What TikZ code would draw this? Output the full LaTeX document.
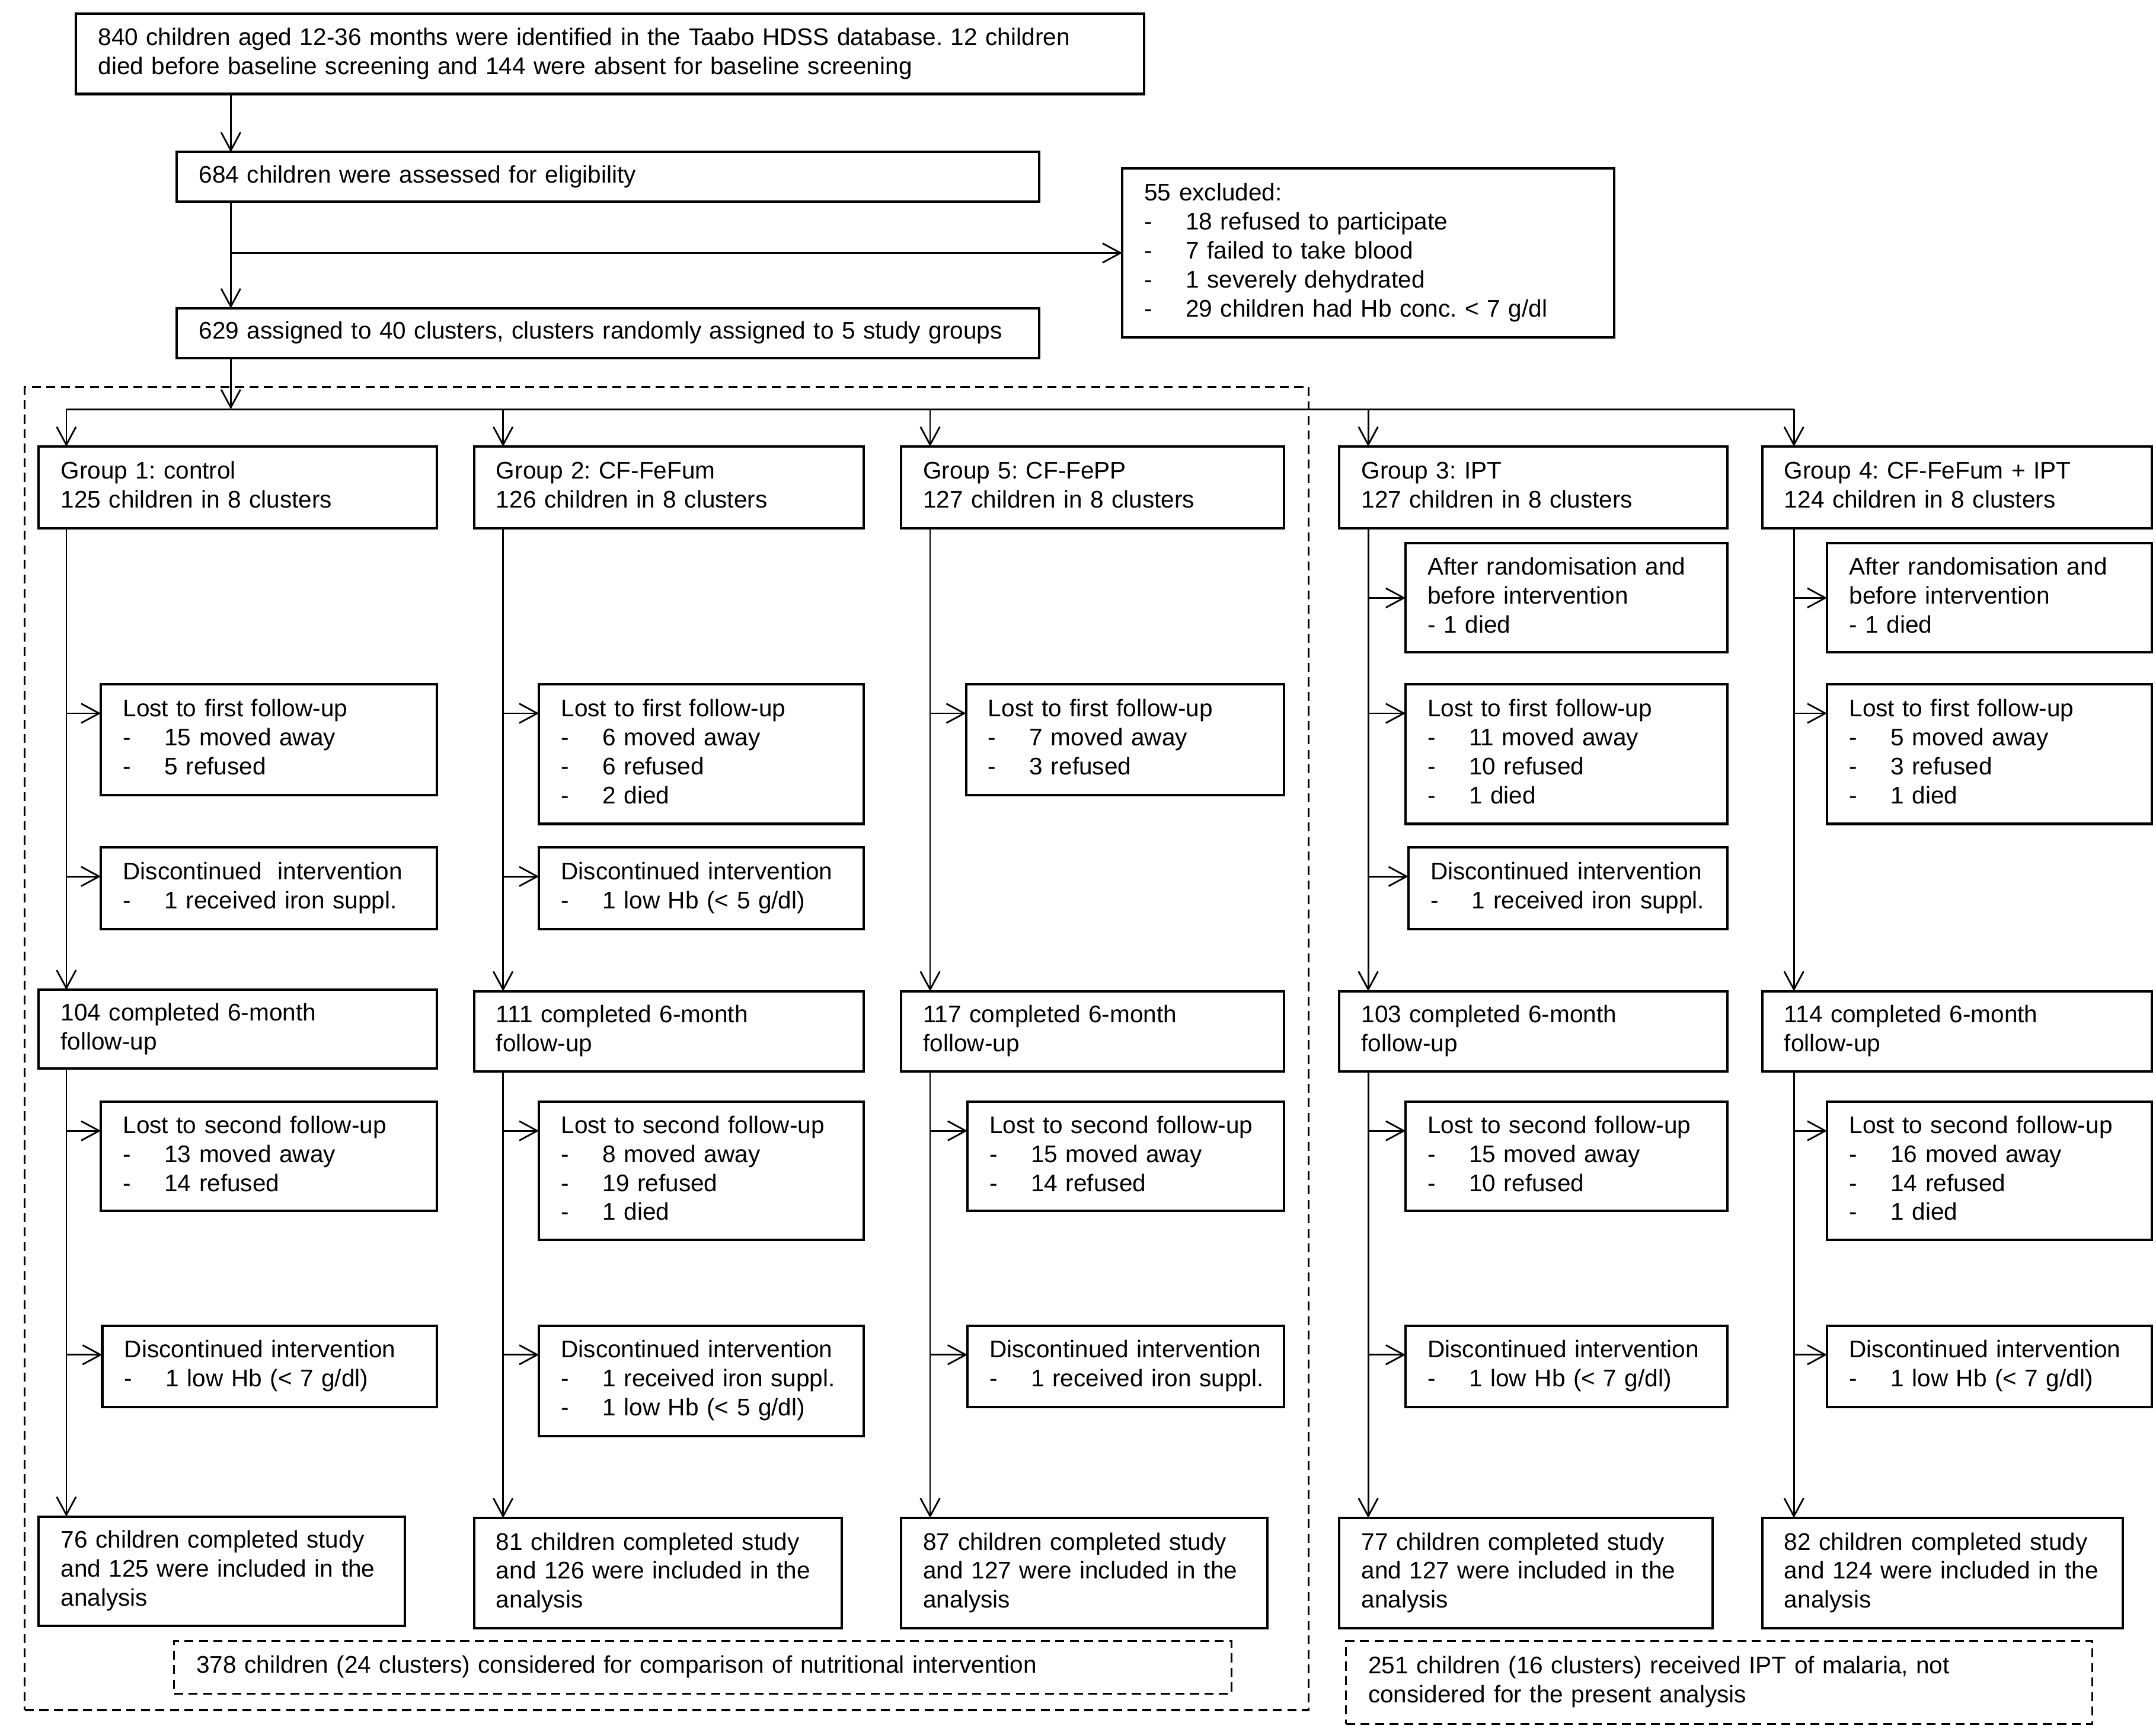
\documentclass[tikz,border=0pt]{standalone}
\usepackage{fontspec}
\setmainfont{Liberation Sans}
\usetikzlibrary{arrows.meta}
\frenchspacing
\tikzset{
  box/.style={draw, line width=1.75pt, rectangle, anchor=north west, inner xsep=16pt, inner ysep=0pt, outer sep=0pt, align=left, font=\fontsize{17.4}{21}\selectfont\frenchspacing},
  dbox/.style={box, line width=1.3pt, dash pattern=on 6.5pt off 4pt},
  dframe/.style={draw, line width=1.3pt, dash pattern=on 6.5pt off 4pt, rectangle, anchor=north west, inner sep=0pt, outer sep=0pt},
  conn/.style={line width=1.2pt},
  arr/.style={line width=1.2pt, -{Straight Barb[length=13pt,width=14pt,line width=1.2pt]}},
}
\newcommand\mkbox[7][box]{%
  \pgfmathsetmacro\bxw{#5-#3-32}%
  \pgfmathsetmacro\bxh{#6-#4}%
  \node[#1, text width=\bxw pt, minimum height=\bxh pt] (#2) at (#3,#4) {\begin{tabular}{@{}l@{}}#7\end{tabular}};}
\newcommand\itm[1]{\makebox[30pt][l]{-}#1}
\begin{document}
\begin{tikzpicture}[x=1pt,y=-1pt]
\useasboundingbox (0,0) rectangle (1560,1252.5);
% top part
\mkbox{A}{55}{10}{828}{68}{840 children aged 12-36 months were identified in the Taabo HDSS database. 12 children\\died before baseline screening and 144 were absent for baseline screening}
\mkbox{B}{128}{110}{752}{146}{684 children were assessed for eligibility}
\mkbox{X}{812}{122}{1168}{244}{55 excluded:\\\itm{18 refused to participate}\\\itm{7 failed to take blood}\\\itm{1 severely dehydrated}\\\itm{29 children had Hb conc. < 7 g/dl}}
\mkbox{C}{128}{223}{752}{259}{629 assigned to 40 clusters, clusters randomly assigned to 5 study groups}
% frames
\node[dframe, minimum width=929pt, minimum height=957pt] (nutframe) at (18,280) {};
% groups
\mkbox{g1}{28}{323}{316}{382}{Group 1: control\\125 children in 8 clusters}
\mkbox{g2}{343}{323}{625}{382}{Group 2: CF-FeFum\\126 children in 8 clusters}
\mkbox{g5}{652}{323}{929}{382}{Group 5: CF-FePP\\127 children in 8 clusters}
\mkbox{g3}{969}{323}{1250}{382}{Group 3: IPT\\127 children in 8 clusters}
\mkbox{g4}{1275}{323}{1557}{382}{Group 4: CF-FeFum + IPT\\124 children in 8 clusters}
% after randomisation
\mkbox{r3}{1017}{393}{1250}{472}{After randomisation and\\before intervention\\- 1 died}
\mkbox{r4}{1322}{393}{1557}{472}{After randomisation and\\before intervention\\- 1 died}
% lost first
\mkbox{a1}{73}{495}{316}{575}{Lost to first follow-up\\\itm{15 moved away}\\\itm{5 refused}}
\mkbox{a2}{390}{495}{625}{596}{Lost to first follow-up\\\itm{6 moved away}\\\itm{6 refused}\\\itm{2 died}}
\mkbox{a5}{699}{495}{929}{575}{Lost to first follow-up\\\itm{7 moved away}\\\itm{3 refused}}
\mkbox{a3}{1017}{495}{1250}{596}{Lost to first follow-up\\\itm{11 moved away}\\\itm{10 refused}\\\itm{1 died}}
\mkbox{a4}{1322}{495}{1557}{596}{Lost to first follow-up\\\itm{5 moved away}\\\itm{3 refused}\\\itm{1 died}}
% discontinued 1
\mkbox{d1}{73}{613}{316}{672}{Discontinued\ \ intervention\\\itm{1 received iron suppl.}}
\mkbox{d2}{390}{613}{625}{672}{Discontinued intervention\\\itm{1 low Hb (< 5 g/dl)}}
\mkbox{d3}{1019}{613}{1250}{672}{Discontinued intervention\\\itm{1 received iron suppl.}}
% completed 6-month
\mkbox{m1}{28}{716}{316}{773}{104 completed 6-month\\follow-up}
\mkbox{m2}{343}{717}{625}{775}{111 completed 6-month\\follow-up}
\mkbox{m5}{652}{717}{929}{775}{117 completed 6-month\\follow-up}
\mkbox{m3}{969}{717}{1250}{775}{103 completed 6-month\\follow-up}
\mkbox{m4}{1275}{717}{1557}{775}{114 completed 6-month\\follow-up}
% lost second
\mkbox{b1}{73}{797}{316}{876}{Lost to second follow-up\\\itm{13 moved away}\\\itm{14 refused}}
\mkbox{b2}{390}{797}{625}{897}{Lost to second follow-up\\\itm{8 moved away}\\\itm{19 refused}\\\itm{1 died}}
\mkbox{b5}{700}{797}{929}{876}{Lost to second follow-up\\\itm{15 moved away}\\\itm{14 refused}}
\mkbox{b3}{1017}{797}{1250}{876}{Lost to second follow-up\\\itm{15 moved away}\\\itm{10 refused}}
\mkbox{b4}{1322}{797}{1557}{897}{Lost to second follow-up\\\itm{16 moved away}\\\itm{14 refused}\\\itm{1 died}}
% discontinued 2
\mkbox{e1}{74}{959}{316}{1018}{Discontinued intervention\\\itm{1 low Hb (< 7 g/dl)}}
\mkbox{e2}{390}{959}{625}{1039}{Discontinued intervention\\\itm{1 received iron suppl.}\\\itm{1 low Hb (< 5 g/dl)}}
\mkbox{e5}{700}{959}{929}{1018}{Discontinued intervention\\\itm{1 received iron suppl.}}
\mkbox{e3}{1017}{959}{1250}{1018}{Discontinued intervention\\\itm{1 low Hb (< 7 g/dl)}}
\mkbox{e4}{1322}{959}{1557}{1018}{Discontinued intervention\\\itm{1 low Hb (< 7 g/dl)}}
% final
\mkbox{f1}{28}{1097}{293}{1176}{76 children completed study\\and 125 were included in the\\analysis}
\mkbox{f2}{343}{1098}{609}{1178}{81 children completed study\\and 126 were included in the\\analysis}
\mkbox{f5}{652}{1098}{917}{1178}{87 children completed study\\and 127 were included in the\\analysis}
\mkbox{f3}{969}{1098}{1239}{1178}{77 children completed study\\and 127 were included in the\\analysis}
\mkbox{f4}{1275}{1098}{1536}{1178}{82 children completed study\\and 124 were included in the\\analysis}
% dashed summary boxes
\mkbox[dbox]{n1}{126}{1187}{891}{1225}{378 children (24 clusters) considered for comparison of nutritional intervention}
\mkbox[dbox]{n2}{974}{1187}{1514}{1247}{251 children (16 clusters) received IPT of malaria, not\\considered for the present analysis}
% spine coordinates
\coordinate (s0) at (167,296);
\coordinate (s1) at (48,296);
\coordinate (s2) at (364,296);
\coordinate (s5) at (673,296);
\coordinate (s3) at (990,296);
\coordinate (s4) at (1298,296);
% top connectors
\draw[arr] (A.south -| s0) -- (B.north -| s0);
\draw[arr] (B.south -| s0) -- (C.north -| s0);
\draw[arr] (X.west -| s0) -- (X.west);
\draw[arr] (C.south -| s0) -- (s0);
\draw[conn] (s1) -- (s4);
\foreach \k in {1,2,5,3,4}{
  \draw[arr] (s\k) -- (g\k.north -| s\k);
  \draw[arr] (g\k.south -| s\k) -- (m\k.north -| s\k);
  \draw[arr] (m\k.south -| s\k) -- (f\k.north -| s\k);
}
% branches
\foreach \b/\k in {a1/1,d1/1,b1/1,e1/1,a2/2,d2/2,b2/2,e2/2,a5/5,b5/5,e5/5,a3/3,d3/3,b3/3,e3/3,a4/4,b4/4,e4/4}{
  \coordinate (t\b) at ([yshift=-21pt]\b.north west);
  \draw[arr] (t\b -| s\k) -- (t\b);
}
\draw[arr] (r3.west -| s3) -- (r3.west);
\draw[arr] (r4.west -| s4) -- (r4.west);
\end{tikzpicture}
\end{document}
